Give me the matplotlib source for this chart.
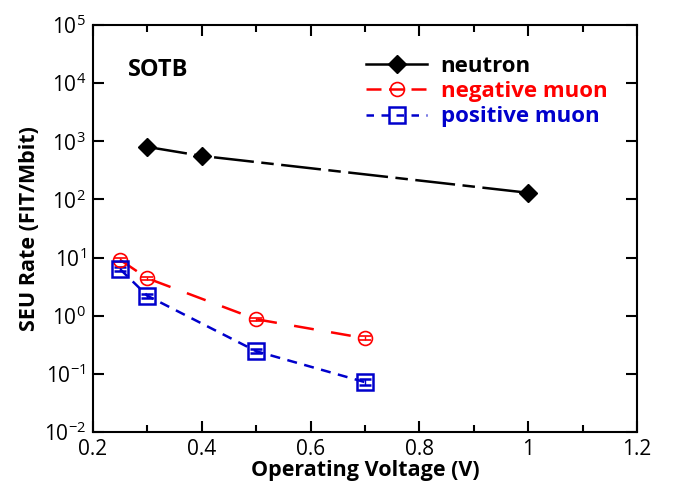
import matplotlib
matplotlib.use("Agg")
import matplotlib.pyplot as plt
from matplotlib.lines import Line2D
from matplotlib.ticker import LogLocator, MultipleLocator

plt.rcParams['font.family'] = ['Open Sans', 'DejaVu Sans']
plt.rcParams['mathtext.fontset'] = 'custom'
plt.rcParams['mathtext.rm'] = 'Open Sans'

# data
neutron_v = [0.3, 0.4, 1.0]
neutron_rate = [800, 560, 130]
neutron_err = [40, 30, 8]

neg_v = [0.25, 0.3, 0.5, 0.7]
neg_rate = [9.1, 4.4, 0.87, 0.41]
neg_err = [0.6, 0.3, 0.06, 0.03]

pos_v = [0.25, 0.3, 0.5, 0.7]
pos_rate = [6.3, 2.2, 0.245, 0.072]
pos_err = [0.5, 0.2, 0.02, 0.008]

labels = ['neutron', 'negative muon', 'positive muon']
colors = ['black', 'red', '#0000cc']

fig = plt.figure(figsize=(6.81, 4.95), dpi=100)
ax = fig.add_axes([93 / 681, 63 / 495, 544 / 681, 407 / 495])

ax.errorbar(neutron_v, neutron_rate, yerr=neutron_err, color=colors[0], marker='D',
            markersize=9, linestyle=(0, (16, 3, 5, 3)), linewidth=1.8, capsize=3)
ax.errorbar(neg_v, neg_rate, yerr=neg_err, color=colors[1], marker='o', mfc='none',
            markersize=10, mew=1.2, linestyle=(0, (8, 7)), linewidth=1.8, capsize=4,
            elinewidth=1)
ax.errorbar(pos_v, pos_rate, yerr=pos_err, color=colors[2], marker='s', mfc='none',
            markersize=11, mew=1.8, linestyle=(0, (4, 3)), linewidth=1.8, capsize=4,
            elinewidth=1)

ax.set_yscale('log')
ax.set_xlim(0.2, 1.2)
ax.set_ylim(1e-2, 1e5)
ax.xaxis.set_minor_locator(MultipleLocator(0.1))
ax.yaxis.set_major_locator(LogLocator(base=10, numticks=10))
ax.yaxis.set_minor_locator(LogLocator(base=10, subs=[], numticks=10))
ax.set_xticks([0.2, 0.4, 0.6, 0.8, 1.0, 1.2])
ax.set_xticklabels(['0.2', '0.4', '0.6', '0.8', '1', '1.2'])

ax.tick_params(which='both', direction='in', top=True, right=True, labelsize=15, width=1.5)
ax.tick_params(which='major', length=8, pad=5)
ax.tick_params(which='minor', length=5)
for s in ax.spines.values():
    s.set_linewidth(1.5)

ax.set_xlabel('Operating Voltage (V)', fontsize=15.5, fontweight='bold', labelpad=0)
ax.set_ylabel('SEU Rate (FIT/Mbit)', fontsize=15.5, fontweight='bold', labelpad=3)

ax.text(0.064, 0.889, 'SOTB', transform=ax.transAxes, fontsize=17, fontweight='bold',
        va='center', ha='left')

handles = [
    Line2D([], [], color=colors[0], marker='D', markersize=9, linewidth=1.8),
    Line2D([], [], color=colors[1], marker='o', mfc='none', markersize=10, mew=1.2,
           linewidth=1.8, linestyle=(0, (6, 3))),
    Line2D([], [], color=colors[2], marker='s', mfc='none', markersize=11, mew=1.8,
           linewidth=1.8, linestyle=(0, (3, 3))),
]
leg = ax.legend(handles, labels, loc='upper left', bbox_to_anchor=(0.502, 0.925),
                frameon=False, borderaxespad=0, borderpad=0, handlelength=2.75,
                labelspacing=0.2, handletextpad=0.6,
                prop={'weight': 'bold', 'size': 16})
for txt, c in zip(leg.get_texts(), colors):
    txt.set_color(c)

fig.savefig('out.png', dpi=100)
